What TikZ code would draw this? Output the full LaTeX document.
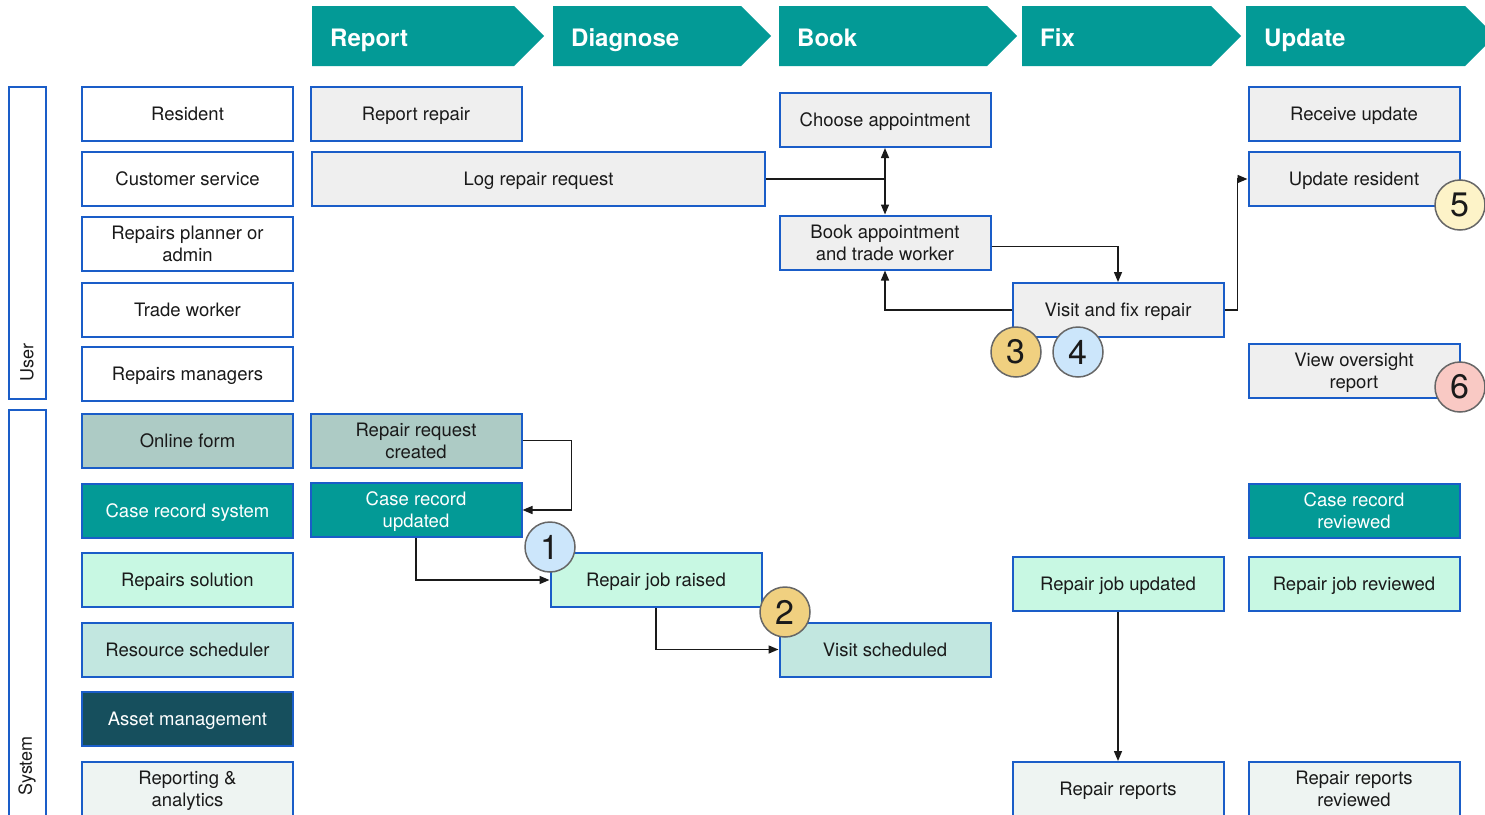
\documentclass[tikz,border=0pt]{standalone}
\usepackage{fontspec}
\setmainfont{TeX Gyre Heros}
\usetikzlibrary{arrows.meta}

\definecolor{teal}{HTML}{039A96}
\definecolor{edgeblue}{HTML}{1A5DC8}
\definecolor{greybox}{HTML}{EFEFEF}
\definecolor{sage}{HTML}{ADCBC5}
\definecolor{mint}{HTML}{C8F8E3}
\definecolor{paleteal}{HTML}{C2E7E0}
\definecolor{darkteal}{HTML}{164F5D}
\definecolor{paper}{HTML}{EEF4F2}
\definecolor{ink}{HTML}{1A1A1A}
\definecolor{gold}{HTML}{F0D080}
\definecolor{skyblue}{HTML}{CCE6FB}
\definecolor{cream}{HTML}{FDF3C8}
\definecolor{blush}{HTML}{F9C9C4}
\definecolor{rim}{HTML}{666666}

\tikzset{
  box/.style={draw=edgeblue, line width=2pt, minimum width=211pt, minimum height=54pt,
    align=center, inner sep=2pt, text depth=0pt, text=ink, font=\fontsize{18.5}{22}\selectfont},
  rolebox/.style={box, fill=white},
  stepbox/.style={box, fill=greybox},
  lane/.style={draw=edgeblue, line width=2pt},
  lanelabel/.style={rotate=90, text=ink, font=\fontsize{18}{22}\selectfont},
  phase/.style={fill=teal},
  phasetext/.style={anchor=base west, text=white, inner sep=0pt, font=\bfseries\fontsize{24}{28}\selectfont},
  arr/.style={draw=ink, line width=1.5pt, -{Triangle[length=10pt,width=8pt]}},
  badge/.style={circle, draw=rim, line width=1.5pt, minimum size=50pt, inner sep=0pt,
    text=ink, font=\fontsize{34}{34}\selectfont},
}

\begin{document}
\begin{tikzpicture}[x=1pt,y=-1pt]
\useasboundingbox[fill=white] (0,0) rectangle (1485,814);
\clip (0,0) rectangle (1485,814);

% phase chevrons
\foreach \xa/\xb/\nm/\lbl in {312/514/pReport/Report, 553/741/pDiagnose/Diagnose,
    779/987/pBook/Book, 1022/1211/pFix/Fix, 1246/1465/pUpdate/Update}{
  \fill[phase] (\xa,6) -- (\xb,6) -- (\xb+30,36) -- (\xb,66) -- (\xa,66) -- cycle;
  \node[phasetext] (\nm) at (\xa+18,46) {\lbl};
}

% swimlane frames
\draw[lane] (9,87) rectangle (46,399);
\draw[lane] (9,410) rectangle (46,830);
\node[lanelabel] (userlbl) at (27,362) {User};
\node[lanelabel] (syslbl) at (27,766) {System};

% roles
\node[rolebox] (resident) at (187.5,114) {Resident};
\node[rolebox] (custsvc) at (187.5,179) {Customer service};
\node[rolebox] (planner) at (187.5,244) {Repairs planner or\\admin};
\node[rolebox] (trade) at (187.5,310) {Trade worker};
\node[rolebox] (managers) at (187.5,373.5) {Repairs managers};

% systems
\node[box, fill=sage] (online) at (187.5,440.5) {Online form};
\node[box, fill=teal, text=white] (casesys) at (187.5,510.5) {Case record system};
\node[box, fill=mint] (repsol) at (187.5,580) {Repairs solution};
\node[box, fill=paleteal] (ressched) at (187.5,649.5) {Resource scheduler};
\node[box, fill=darkteal, text=white] (asset) at (187.5,718.5) {Asset management};
\node[box, fill=paper] (reporting) at (187.5,789) {Reporting \&\\analytics};

% user steps
\node[stepbox] (reportrep) at (416,114) {Report repair};
\node[stepbox, minimum width=453pt] (logreq) at (538.5,179) {Log repair request};
\node[stepbox] (choose) at (885,120) {Choose appointment};
\node[stepbox] (bookappt) at (885,242.5) {Book appointment\\and trade worker};
\node[stepbox] (visit) at (1118,310) {Visit and fix repair};
\node[stepbox] (receive) at (1354,114) {Receive update};
\node[stepbox] (updres) at (1354,179) {Update resident};
\node[stepbox] (oversight) at (1354,370.5) {View oversight\\report};

% system steps
\node[box, fill=sage] (reqcreated) at (416,440.5) {Repair request\\created};
\node[box, fill=teal, text=white] (caseupd) at (416,510) {Case record\\updated};
\node[box, fill=mint] (jobraised) at (656,580) {Repair job raised};
\node[box, fill=paleteal] (visitsched) at (885,649.5) {Visit scheduled};
\node[box, fill=mint] (jobupd) at (1118,584) {Repair job updated};
\node[box, fill=teal, text=white] (caserev) at (1354,510.5) {Case record\\reviewed};
\node[box, fill=mint] (jobrev) at (1354,584) {Repair job reviewed};
\node[box, fill=paper] (reports) at (1118,789) {Repair reports};
\node[box, fill=paper] (reportsrev) at (1354,789) {Repair reports\\reviewed};

% connectors
\draw[arr] (logreq.east) -| (choose.south);
\draw[arr] (logreq.east) -| (bookappt.north);
\draw[arr] ([yshift=-4pt]bookappt.east) -| (visit.north);
\draw[arr] (visit.west) -| (bookappt.south);
\draw[arr] (visit.east) -- ++(13,0) |- (updres.west);
\draw[arr] (reqcreated.east) -- ++(49,0) |- (caseupd.east);
\draw[arr] (caseupd.south) |- (jobraised.west);
\draw[arr] (jobraised.south) |- (visitsched.west);
\draw[arr] (jobupd.south) -- (reports.north);

% numbered markers
\node[badge, fill=skyblue] (m1) at (550,547) {1};
\node[badge, fill=gold] (m2) at (785,612) {2};
\node[badge, fill=gold] (m3) at (1016,352) {3};
\node[badge, fill=skyblue] (m4) at (1078,352) {4};
\node[badge, fill=cream] (m5) at (1460,205) {5};
\node[badge, fill=blush] (m6) at (1460,387) {6};
\end{tikzpicture}
\end{document}
